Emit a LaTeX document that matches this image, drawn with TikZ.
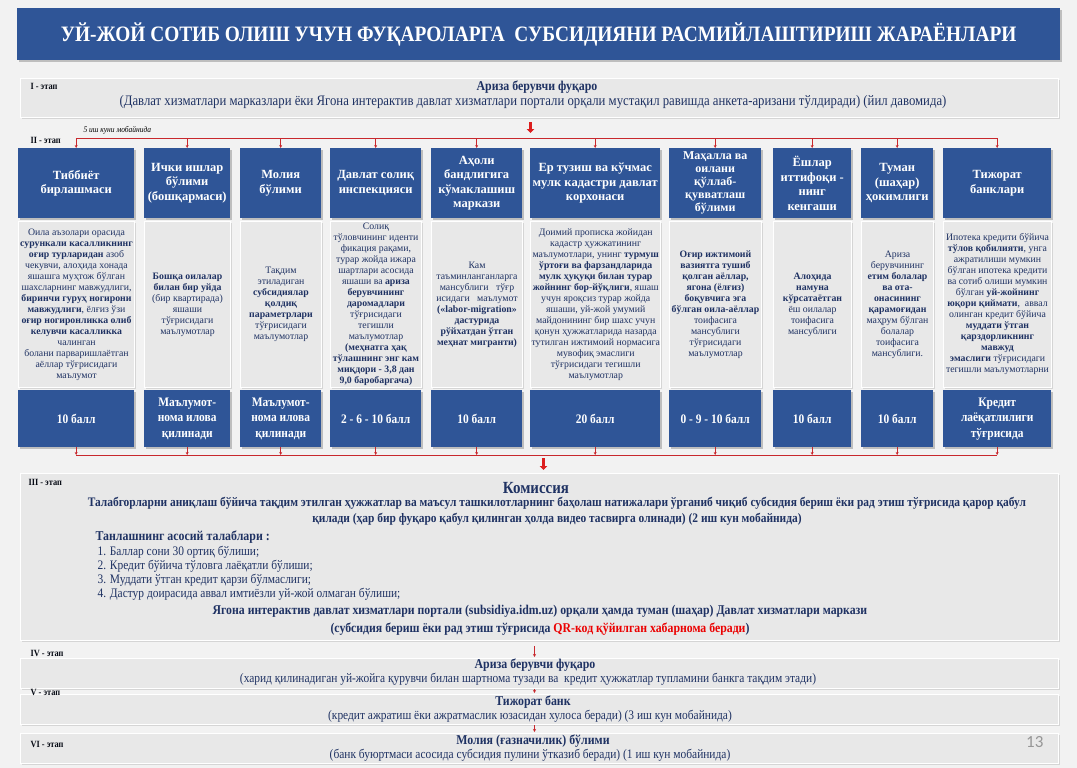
\documentclass[tikz,border=0pt]{standalone}
\usepackage{fontspec}
\setmainfont{Liberation Serif}
\newfontfamily\narrowfont{Liberation Serif}[FakeStretch=0.88]
\newfontfamily\slidenumfont{Carlito}
\usetikzlibrary{positioning,arrows.meta,shadows}
\definecolor{pagebg}{RGB}{242,242,242}
\definecolor{boxblue}{RGB}{47,85,151}
\definecolor{infogrey}{RGB}{232,232,232}
\definecolor{textnavy}{RGB}{31,50,99}
\definecolor{linered}{RGB}{200,40,45}
\definecolor{arrowred}{RGB}{220,30,30}
\definecolor{qrred}{RGB}{235,0,0}
\definecolor{numgrey}{RGB}{150,150,150}

\begin{document}
\begin{tikzpicture}[x=1pt,y=-1pt,
    bluebox/.style={anchor=north west, fill=boxblue, text=white, align=center, inner sep=1pt,
      drop shadow={shadow xshift=1.5pt, shadow yshift=-2pt, opacity=0.45}},
    hdr/.style={bluebox, minimum height=70pt, font=\bfseries\fontsize{12.5}{14.5}\selectfont},
    score/.style={bluebox, minimum height=57pt, font=\narrowfont\bfseries\fontsize{13}{15.5}\selectfont},
    info/.style={anchor=north west, fill=infogrey, draw=white, line width=1pt, text=textnavy,
      align=center, inner sep=1pt, minimum height=166pt, font=\fontsize{9.8}{11}\selectfont,
      drop shadow={shadow xshift=1pt, shadow yshift=-1.5pt, opacity=0.25}},
    stagebox/.style={anchor=north west, fill=infogrey, draw=white, line width=1pt, minimum width=1038pt,
      inner sep=0pt, drop shadow={shadow xshift=1pt, shadow yshift=-1.5pt, opacity=0.25}},
    stagelbl/.style={anchor=north west, text=black!80!textnavy, font=\narrowfont\bfseries\fontsize{9.5}{11}\selectfont},
    stagetitle/.style={text=textnavy, font=\narrowfont\bfseries\fontsize{13.5}{15}\selectfont},
    stagetext/.style={text=textnavy, font=\narrowfont\fontsize{13}{15}\selectfont},
    redline/.style={draw=linered, line width=0.9pt},
    downtick/.style={draw=linered, line width=0.6pt, -{Stealth[length=3pt,width=3pt]}},
    bigarrow/.style={draw=arrowred, line width=2.8pt, -{Triangle[length=4pt,width=7.5pt]}},
    thinarrow/.style={draw=linered, line width=0.7pt, -{Stealth[length=3pt,width=3pt]}}
  ]
  \useasboundingbox (0,0) rectangle (1077,768);
  \fill[pagebg] (0,0) rectangle (1077,768);

  % Title
  \node[bluebox, minimum width=1043pt, minimum height=52pt,
    font=\narrowfont\bfseries\fontsize{22}{24}\selectfont] (title) at (17,8)
    {УЙ-ЖОЙ СОТИБ ОЛИШ УЧУН ФУҚАРОЛАРГА\ \ СУБСИДИЯНИ РАСМИЙЛАШТИРИШ ЖАРАЁНЛАРИ};

  % I - stage
  \node[stagebox, minimum height=39pt] (st1) at (20,78) {};
  \node[stagelbl] (lbl1) at (27,80) {I - этап};
  \node[stagetitle] (st1a) at (537,87) {Ариза берувчи фуқаро};
  \node[stagetext, font=\narrowfont\fontsize{14.5}{16}\selectfont] (st1b) at (533,102) {(Давлат хизматлари марказлари ёки Ягона интерактив давлат хизматлари портали орқали мустақил равишда анкета-аризани тўлдиради) (йил давомида)};

  % II - stage
  \node[stagelbl] (lbl2) at (27,134) {II - этап};
  \node[anchor=north west, font=\narrowfont\itshape\fontsize{8.5}{10}\selectfont] (days5) at (80,123) {5 иш куни мобайнида};
  \coordinate (topbar) at (0,138);

  % headers
  \node[hdr, minimum width=116pt] (h1) at (18,148) {Тиббиёт\\бирлашмаси};
  \node[hdr, minimum width=86pt] (h2) at (144,148) {Ички ишлар\\бўлими\\(бошқармаси)};
  \node[hdr, minimum width=81pt] (h3) at (240,148) {Молия\\бўлими};
  \node[hdr, minimum width=91pt] (h4) at (330,148) {Давлат солиқ\\инспекцияси};
  \node[hdr, minimum width=91pt] (h5) at (431,148) {Аҳоли\\бандлигига\\кўмаклашиш\\маркази};
  \node[hdr, minimum width=130pt] (h6) at (530,148) {Ер тузиш ва кўчмас\\мулк кадастри давлат\\корхонаси};
  \node[hdr, minimum width=92pt, font=\bfseries\fontsize{12}{13}\selectfont] (h7) at (669,148) {Маҳалла ва\\оилани\\қўллаб-\\қувватлаш\\бўлими};
  \node[hdr, minimum width=78pt] (h8) at (773,148) {Ёшлар\\иттифоқи -\\нинг\\кенгаши};
  \node[hdr, minimum width=72pt] (h9) at (861,148) {Туман\\(шаҳар)\\ҳокимлиги};
  \node[hdr, minimum width=108pt] (h10) at (943,148) {Тижорат\\банклари};

  % information boxes
  \node[info, minimum width=116pt] (t1) at (18,221) {Оила аъзолари орасида\\\textbf{сурункали касалликнинг}\\\textbf{оғир турларидан} азоб\\чекувчи, алоҳида хонада\\яшашга муҳтож бўлган\\шахсларнинг мавжудлиги,\\\textbf{биринчи гуруҳ ногирони}\\\textbf{мавжудлиги}, ёлғиз ўзи\\\textbf{оғир ногиронликка олиб}\\\textbf{келувчи касалликка}\\чалинган\\болани парваришлаётган\\аёллар тўғрисидаги\\маълумот};
  \node[info, minimum width=86pt] (t2) at (144,221) {\textbf{Бошқа оилалар}\\\textbf{билан бир уйда}\\(бир квартирада)\\яшаши\\тўғрисидаги\\маълумотлар};
  \node[info, minimum width=81pt] (t3) at (240,221) {Тақдим\\этиладиган\\\textbf{субсидиялар}\\\textbf{қолдиқ}\\\textbf{параметрлари}\\тўғрисидаги\\маълумотлар};
  \node[info, minimum width=91pt] (t4) at (330,221) {Солиқ\\тўловчининг иденти\\фикация рақами,\\турар жойда ижара\\шартлари асосида\\яшаши ва \textbf{ариза}\\\textbf{берувчининг}\\\textbf{даромадлари}\\тўғрисидаги\\тегишли\\маълумотлар\\\textbf{(меҳнатга ҳақ}\\\textbf{тўлашнинг энг кам}\\\textbf{миқдори - 3,8 дан}\\\textbf{9,0 баробаргача)}};
  \node[info, minimum width=91pt] (t5) at (431,221) {Кам\\таъминланганларга\\мансублиги\ \ \ тўғр\\исидаги\ \ \ маълумот\\\textbf{(«labor-migration»}\\\textbf{дастурида}\\\textbf{рўйхатдан ўтган}\\\textbf{меҳнат мигранти)}};
  \node[info, minimum width=130pt] (t6) at (530,221) {Доимий прописка жойидан\\кадастр ҳужжатининг\\маълумотлари, унинг \textbf{турмуш}\\\textbf{ўртоғи ва фарзандларида}\\\textbf{мулк ҳуқуқи билан турар}\\\textbf{жойнинг бор-йўқлиги}, яшаш\\учун яроқсиз турар жойда\\яшаши, уй-жой умумий\\майдонининг бир шахс учун\\қонун ҳужжатларида назарда\\тутилган ижтимоий нормасига\\мувофиқ эмаслиги\\тўғрисидаги тегишли\\маълумотлар};
  \node[info, minimum width=92pt] (t7) at (669,221) {\textbf{Оғир ижтимоий}\\\textbf{вазиятга тушиб}\\\textbf{қолган аёллар,}\\\textbf{ягона (ёлғиз)}\\\textbf{боқувчига эга}\\\textbf{бўлган оила-аёллар}\\тоифасига\\мансублиги\\тўғрисидаги\\маълумотлар};
  \node[info, minimum width=78pt] (t8) at (773,221) {\textbf{Алоҳида}\\\textbf{намуна}\\\textbf{кўрсатаётган}\\ёш оилалар\\тоифасига\\мансублиги};
  \node[info, minimum width=72pt] (t9) at (861,221) {Ариза\\берувчининг\\\textbf{етим болалар}\\\textbf{ва ота-}\\\textbf{онасининг}\\\textbf{қарамоғидан}\\маҳрум бўлган\\болалар\\тоифасига\\мансублиги.};
  \node[info, minimum width=108pt] (t10) at (943,221) {Ипотека кредити бўйича\\\textbf{тўлов қобилияти}, унга\\ажратилиши мумкин\\бўлган ипотека кредити\\ва сотиб олиши мумкин\\бўлган \textbf{уй-жойнинг}\\\textbf{юқори қиймати},\ \ аввал\\олинган кредит бўйича\\\textbf{муддати ўтган}\\\textbf{қарздорликнинг}\\\textbf{мавжуд}\\\textbf{эмаслиги} тўғрисидаги\\тегишли маълумотларни};

  % scores
  \node[score, minimum width=116pt] (s1) at (18,390) {10 балл};
  \node[score, minimum width=86pt] (s2) at (144,390) {Маълумот-\\нома илова\\қилинади};
  \node[score, minimum width=81pt] (s3) at (240,390) {Маълумот-\\нома илова\\қилинади};
  \node[score, minimum width=91pt] (s4) at (330,390) {2 - 6 - 10 балл};
  \node[score, minimum width=91pt] (s5) at (431,390) {10 балл};
  \node[score, minimum width=130pt] (s6) at (530,390) {20 балл};
  \node[score, minimum width=92pt] (s7) at (669,390) {0 - 9 - 10 балл};
  \node[score, minimum width=78pt] (s8) at (773,390) {10 балл};
  \node[score, minimum width=72pt] (s9) at (861,390) {10 балл};
  \node[score, minimum width=108pt] (s10) at (943,390) {Кредит\\лаёқатлилиги\\тўғрисида};
  \coordinate (botbar) at (0,455);

  % III - stage
  \node[stagebox, minimum height=167pt] (st3) at (20,473) {};
  \node[stagelbl] (lbl3) at (25,476) {III - этап};
  \node[stagetitle, font=\narrowfont\bfseries\fontsize{17}{18}\selectfont] (kom) at (536,488) {Комиссия};
  \node[stagetitle, align=center, font=\narrowfont\bfseries\fontsize{13}{15.5}\selectfont] (kom2) at (557,511)
    {Талабгорларни аниқлаш бўйича тақдим этилган ҳужжатлар ва маъсул ташкилотларнинг баҳолаш натижалари ўрганиб чиқиб субсидия бериш ёки рад этиш тўғрисида қарор қабул\\қилади (ҳар бир фуқаро қабул қилинган ҳолда видео тасвирга олинади) (2 иш кун мобайнида)};
  \node[stagetitle, anchor=west] (req) at (92,537) {Танлашнинг асосий талаблари :};
  \node[stagetext, anchor=north west, align=left, font=\narrowfont\fontsize{13}{14}\selectfont] (reqlist) at (94,543)
    {1. Баллар сони 30 ортиқ бўлиши;\\2. Кредит бўйича тўловга лаёқатли бўлиши;\\3. Муддати ўтган кредит қарзи бўлмаслиги;\\4. Дастур доирасида аввал имтиёзли уй-жой олмаган бўлиши;};
  \node[stagetitle, align=center, font=\narrowfont\bfseries\fontsize{13.4}{18}\selectfont] (portal) at (540,620)
    {Ягона интерактив давлат хизматлари портали (subsidiya.idm.uz) орқали ҳамда туман (шаҳар) Давлат хизматлари маркази\\(субсидия бериш ёки рад этиш тўғрисида \textcolor{qrred}{QR-код қўйилган хабарнома беради})};

  % IV - VI stages
  \node[stagelbl] (lbl4) at (27,647) {IV - этап};
  \node[stagebox, minimum height=30pt] (st4) at (20,658) {};
  \node[stagetitle] (st4a) at (535,665) {Ариза берувчи фуқаро};
  \node[stagetext] (st4b) at (528,679) {(харид қилинадиган уй-жойга қурувчи билан шартнома тузади ва\ \ кредит ҳужжатлар тупламини банкга тақдим этади)};

  \node[stagebox, minimum height=30pt] (st5) at (20,694) {};
  \node[stagelbl] (lbl5) at (27,686) {V - этап};
  \node[stagetitle] (st5a) at (533,702) {Тижорат банк};
  \node[stagetext] (st5b) at (530,716) {(кредит ажратиш ёки ажратмаслик юзасидан хулоса беради) (3 иш кун мобайнида)};

  \node[stagebox, minimum height=30pt] (st6) at (20,733) {};
  \node[stagelbl, anchor=west] (lbl6) at (27,744) {VI - этап};
  \node[stagetitle] (st6a) at (533,741) {Молия (ғазначилик) бўлими};
  \node[stagetext] (st6b) at (530,755) {(банк буюртмаси асосида субсидия пулини ўтказиб беради) (1 иш кун мобайнида)};
  \node[anchor=east, text=numgrey, font=\slidenumfont\fontsize{17}{18}\selectfont] (pagenum) at (1047,742) {13};

  % connectors
  \draw[bigarrow] ([xshift=-9pt,yshift=-4pt]st1.south) -- ([xshift=-9pt,yshift=5pt]st1.south |- topbar);
  \draw[redline] (h1.north |- topbar) -- (h10.north |- topbar);
  \foreach \i in {1,...,10}
    \draw[downtick] (h\i.north |- topbar) -- (h\i.north);
  \foreach \i in {1,...,10}
    \draw[downtick] (s\i.south) -- (s\i.south |- botbar);
  \draw[redline] (s1.south |- botbar) -- (s10.south |- botbar);
  \draw[bigarrow] ([xshift=4pt,yshift=-3pt]st3.north |- botbar) -- ([xshift=4pt,yshift=3pt]st3.north);
  \draw[thinarrow] ([xshift=-5pt,yshift=-5pt]st3.south) -- ([xshift=-5pt,yshift=1pt]st4.north);
  \draw[thinarrow] ([xshift=-5pt]st4.south) -- ([xshift=-5pt,yshift=1pt]st5.north);
  \draw[thinarrow] ([xshift=-5pt]st5.south) -- ([xshift=-5pt,yshift=1pt]st6.north);
\end{tikzpicture}
\end{document}
